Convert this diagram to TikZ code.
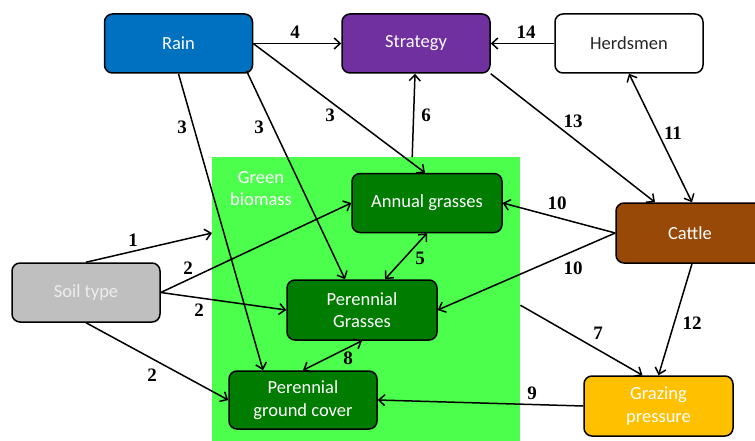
\documentclass[tikz,border=0pt]{standalone}
\usepackage{fontspec}
\setmainfont{Carlito}
\newfontfamily\numfont{Liberation Serif}
\usetikzlibrary{arrows.meta,positioning}
\definecolor{rainc}{HTML}{0070C0}
\definecolor{stratc}{HTML}{7030A0}
\definecolor{cattlec}{HTML}{984807}
\definecolor{soilc}{HTML}{BFBFBF}
\definecolor{soiltext}{HTML}{EDEDED}
\definecolor{greenbg}{HTML}{4CFF4C}
\definecolor{darkg}{HTML}{007D00}
\definecolor{grazc}{HTML}{FFC000}
\definecolor{herdtext}{HTML}{262626}
\tikzset{
  box/.style={draw=black, line width=1.5pt, rounded corners=8pt, minimum width=148pt, minimum height=59pt,
    font=\fontsize{18.5}{22.5}\selectfont, align=center, inner sep=0pt},
  gbox/.style={box, fill=darkg, text=white, minimum width=150pt},
  conn/.style={line width=1.5pt, -{Straight Barb[length=6pt,width=11pt,line width=1.5pt]}},
  biconn/.style={line width=1.5pt, {Straight Barb[length=6pt,width=11pt,line width=1.5pt]}-{Straight Barb[length=6pt,width=11pt,line width=1.5pt]}},
  lbl/.style={font=\numfont\bfseries\fontsize{19}{19}\selectfont, inner sep=0pt}
}
\begin{document}
\begin{tikzpicture}[x=1pt,y=-1pt]
\useasboundingbox (0,0) rectangle (755,441);
\clip (0,0) rectangle (755,441);
% green biomass area
\node[fill=greenbg, minimum width=308pt, minimum height=290pt, inner sep=0pt, anchor=north west] (green) at (212,157) {};
\node[text=white, font=\fontsize{18.5}{22}\selectfont, align=center] (gbl) at (261,189) {Green\\biomass};
% nodes
\node[box, fill=rainc, text=white] (rain) at (178.5,43.5) {Rain};
\node[box, fill=stratc, text=white] (strat) at (416,43.5) {Strategy};
\node[box, fill=white, text=herdtext] (herd) at (629,43.5) {Herdsmen};
\node[box, fill=cattlec, text=white, minimum height=60pt] (cattle) at (690,233) {Cattle};
\node[box, fill=soilc, text=soiltext] (soil) at (86,292.5) {Soil type};
\node[gbox] (annual) at (427,203) {Annual grasses};
\node[gbox, minimum height=60pt] (pgrass) at (362,310) {Perennial\\Grasses};
\node[gbox, minimum width=148pt, minimum height=58pt] (ground) at (303,400) {Perennial\\ground cover};
\node[box, fill=grazc, text=white, minimum width=149pt, minimum height=60pt] (graz) at (658.5,406) {Grazing\\pressure};
% connectors
\draw[conn] (soil.north) -- ([yshift=-76pt]green.north west);
\draw[conn] (soil.east) -- (annual.west);
\draw[conn] (soil.east) -- (pgrass.west);
\draw[conn] (soil.south) -- (ground.west);
\draw[conn] (rain.south) -- ([xshift=-40pt]ground.north);
\draw[conn] ([xshift=68pt,yshift=3pt]rain.south) -- ([xshift=-17pt]pgrass.north);
\draw[conn] (rain.east) -- ([xshift=-2pt]annual.north);
\draw[conn] (rain.east) -- (strat.west);
\draw[conn] ([xshift=46pt]green.north) -- ([xshift=-1pt]strat.south);
\draw[conn] (herd.west) -- (strat.east);
\draw[conn] (strat.south east) -- ([xshift=-35pt]cattle.north);
\draw[biconn] (herd.south) -- ([xshift=2pt]cattle.north);
\draw[conn] (cattle.west) -- (annual.east);
\draw[conn] (cattle.west) -- (pgrass.east);
\draw[conn] ([xshift=2pt]cattle.south) -- (graz.north);
\draw[conn] ([yshift=-3pt]green.east) -- ([xshift=-16pt]graz.north);
\draw[conn] (graz.west) -- (ground.east);
\draw[biconn] (annual.south) -- ([xshift=23pt]pgrass.north);
\draw[biconn] (pgrass.south) -- (ground.north);
% labels
\node[lbl] (l1) at (133,240) {1};
\node[lbl] (l2a) at (188,268) {2};
\node[lbl] (l2b) at (199,310) {2};
\node[lbl] (l2c) at (152,375) {2};
\node[lbl] (l3a) at (182,127) {3};
\node[lbl] (l3b) at (259,127) {3};
\node[lbl] (l3c) at (330,115) {3};
\node[lbl] (l4) at (295,32) {4};
\node[lbl] (l6) at (426,115) {6};
\node[lbl] (l14) at (526,32) {14};
\node[lbl] (l13) at (573,121) {13};
\node[lbl] (l11) at (673,133) {11};
\node[lbl] (l10a) at (557,203) {10};
\node[lbl] (l10b) at (573,268) {10};
\node[lbl] (l5) at (420,258) {5};
\node[lbl] (l8) at (348,358) {8};
\node[lbl] (l12) at (692,323) {12};
\node[lbl] (l7) at (598,333) {7};
\node[lbl] (l9) at (532,393) {9};
\end{tikzpicture}
\end{document}
